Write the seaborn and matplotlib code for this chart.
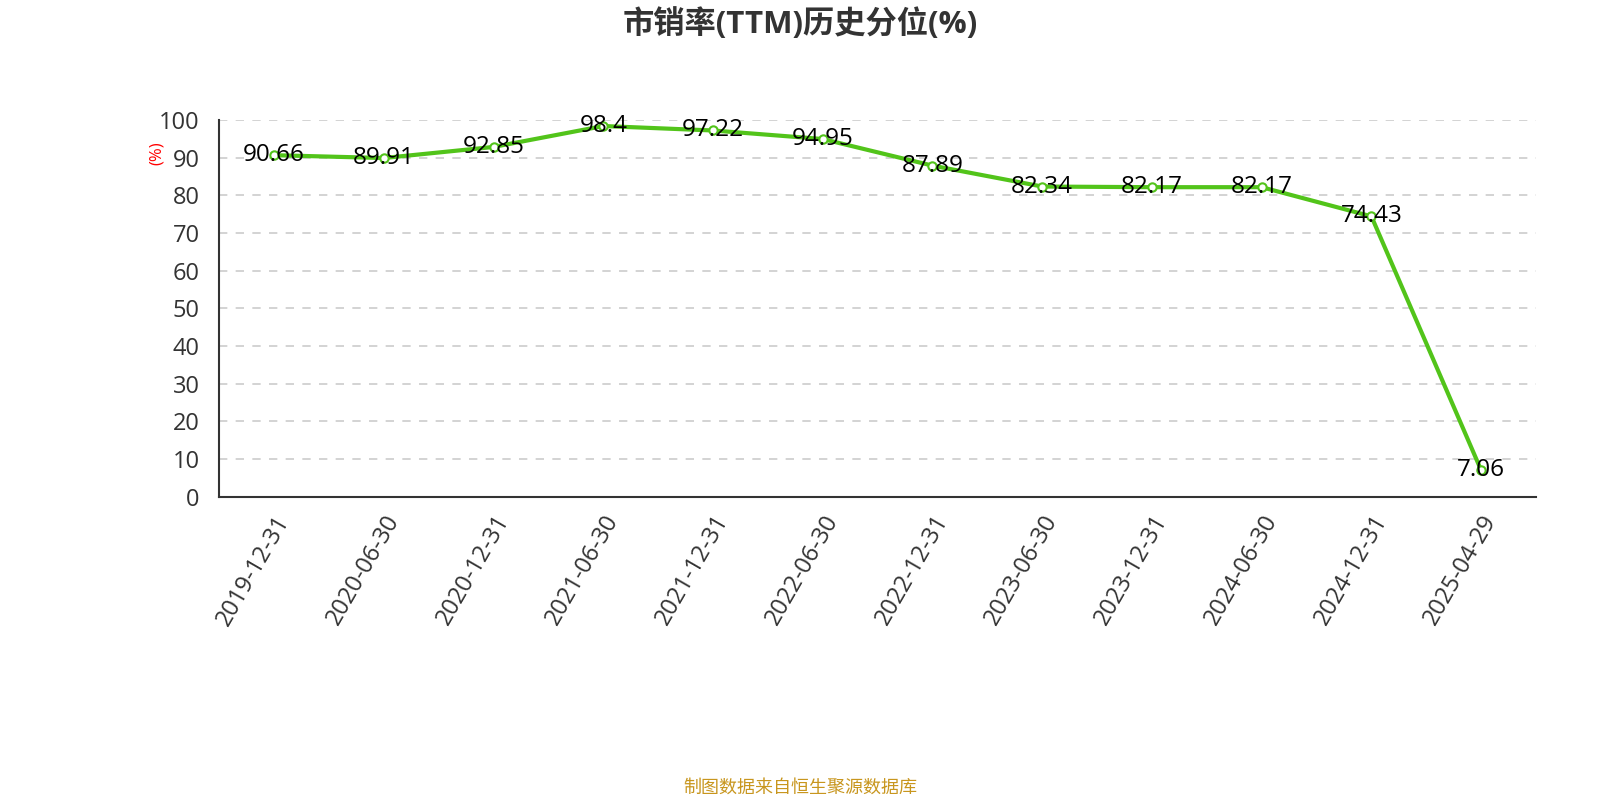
import pandas as pd
import matplotlib.pyplot as plt
import seaborn as sns

sns.set_style("white")
plt.rcParams["font.family"] = ["Open Sans", "Noto Sans CJK SC", "DejaVu Sans"]

dates = ["2019-12-31", "2020-06-30", "2020-12-31", "2021-06-30", "2021-12-31", "2022-06-30",
         "2022-12-31", "2023-06-30", "2023-12-31", "2024-06-30", "2024-12-31", "2025-04-29"]
values = [90.66, 89.91, 92.85, 98.4, 97.22, 94.95, 87.89, 82.34, 82.17, 82.17, 74.43, 7.06]
labels = ["90.66", "89.91", "92.85", "98.4", "97.22", "94.95", "87.89", "82.34", "82.17", "82.17", "74.43", "7.06"]

df = pd.DataFrame({"idx": range(len(dates)), "date": dates, "value": values})

fig = plt.figure(figsize=(16, 8), dpi=100)
ax = fig.add_axes([0.137, 0.379, 0.823, 0.471])

sns.lineplot(data=df, x="idx", y="value", ax=ax, color="#52c41a", linewidth=3,
             marker="o", markersize=6, markerfacecolor="white",
             markeredgecolor="#52c41a", markeredgewidth=1.5)

for i, (v, t) in enumerate(zip(values, labels)):
    ax.text(i, v, t, ha="center", va="center", fontsize=17.5, color="black", zorder=5)

ax.set_xlim(-0.5, len(dates) - 0.5)
ax.set_ylim(0, 100)
ax.set_yticks(range(0, 101, 10))
ax.tick_params(axis="y", labelsize=17, colors="#333333", length=6, width=1.2, pad=8)

ax.set_xticks(range(len(dates)))
ax.set_xticklabels(dates, rotation=60, ha="right", rotation_mode="anchor", fontsize=17, color="#333333")
ax.tick_params(axis="x", which="major", length=0, pad=10)
ax.set_xticks([i - 0.5 for i in range(len(dates) + 1)], minor=True)
ax.tick_params(axis="x", which="minor", length=6, width=1.2, color="#333333")

ax.yaxis.grid(True, linestyle=(0, (5, 5)), color="#cccccc", linewidth=1.2)
ax.set_axisbelow(True)
for s in ["top", "right"]:
    ax.spines[s].set_visible(False)
for s in ["left", "bottom"]:
    ax.spines[s].set_color("#333333")
    ax.spines[s].set_linewidth(1.5)

ax.set_xlabel("")
ax.set_ylabel("")
fig.text(0.098, 0.808, "(%)", rotation=90, color="red", fontsize=12, ha="center", va="center")

fig.text(0.5, 0.97, "市销率(TTM)历史分位(%)", fontsize=22.5, fontweight="bold",
         color="#333333", ha="center", va="center")
fig.text(0.5, 0.015, "制图数据来自恒生聚源数据库", fontsize=13, color="#c8961e",
         ha="center", va="center")

fig.savefig("out.png", dpi=100)
